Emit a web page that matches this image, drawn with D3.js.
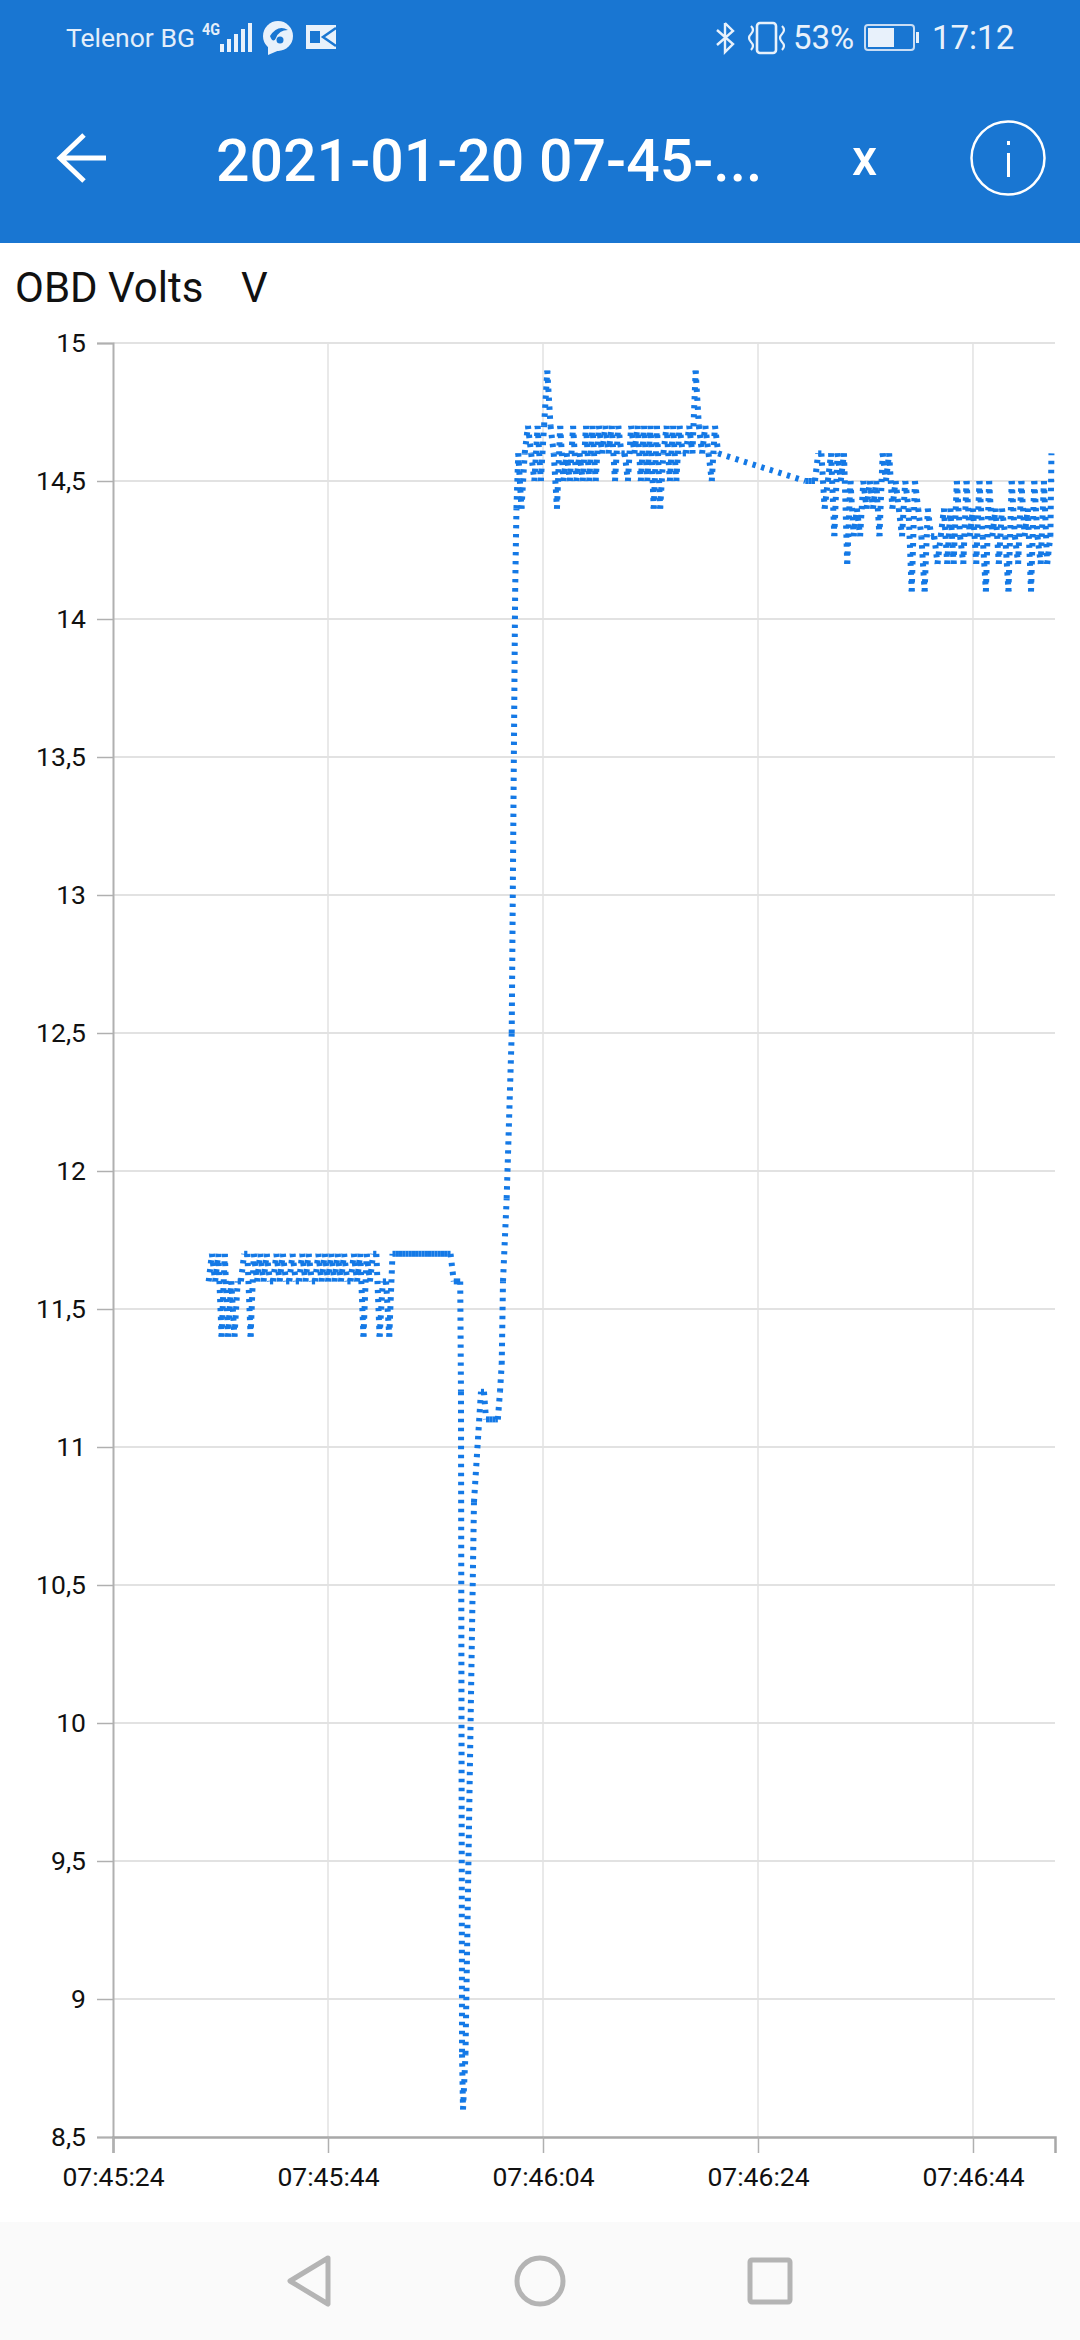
<!DOCTYPE html>
<html><head><meta charset="utf-8">
<script src="https://cdn.jsdelivr.net/npm/d3@7"></script>
<style>
html,body{margin:0;padding:0;background:#fff;}
svg{display:block;font-family:Roboto,sans-serif;}
</style></head><body>
<script>
// Seconds after 07:45:24, and OBD voltage
const idleTimes=[8.9,9.2,9.5,9.8,10.1,10.4,10.7,11.0,11.3,11.6,
11.9,12.2,12.5,12.8,13.1,13.4,13.7,14.0,14.3,14.6,
14.9,15.2,15.5,15.8,16.1,16.4,16.7,17.0,17.3,17.6,
17.9,18.2,18.5,18.8,19.1,19.4,19.7,20.0,20.3,20.6,
20.9,21.2,21.5,21.8,22.1,22.4,22.7,23.0,23.3,23.6,
23.9,24.2,24.5,24.8,25.1,25.4,25.7,26.0,26.3,26.6,
26.9,27.2,27.5,27.8,28.1,28.4,28.7,29.0,29.3,29.6,
29.9,30.2,30.5,30.8,31.1,31.4,31.7,32.0,32.3];
const idleVolts=[11.6,11.7,11.6,11.7,11.4,11.7,11.4,11.6,11.4,11.6,
11.6,11.7,11.7,11.4,11.7,11.6,11.7,11.6,11.7,11.6,
11.6,11.7,11.6,11.7,11.6,11.6,11.7,11.6,11.6,11.7,
11.6,11.7,11.6,11.6,11.7,11.6,11.7,11.6,11.7,11.6,
11.7,11.6,11.7,11.6,11.6,11.7,11.6,11.7,11.4,11.7,
11.6,11.7,11.7,11.4,11.6,11.6,11.4,11.7,11.7,11.7,
11.7,11.7,11.7,11.7,11.7,11.7,11.7,11.7,11.7,11.7,
11.7,11.7,11.7,11.7,11.7,11.7,11.6,11.6,11.6];
const crankTimes=[32.37,32.47,32.56,32.79,33.58,34.23,34.51,34.70,35.0,35.3,35.6,35.8,36.0,36.16,36.28,36.62,37.09,37.41,37.53];
const crankVolts=[11.2,8.8,8.6,8.8,10.8,11.2,11.2,11.1,11.1,11.1,11.1,11.1,11.2,11.3,11.6,11.9,12.5,14.1,14.4];
const chargeTimes=[37.7,38.0,38.3,38.6,38.9,39.2,39.5,39.8,40.1,40.4,
40.7,41.0,41.3,41.6,41.9,42.2,42.5,42.8,43.1,43.4,
43.7,44.0,44.3,44.6,44.9,45.2,45.5,45.8,46.1,46.4,
46.7,47.0,47.3,47.6,47.9,48.2,48.5,48.8,49.1,49.4,
49.7,50.0,50.3,50.6,50.9,51.2,51.5,51.8,52.1,52.4,
52.7,53.0,53.3,53.6,53.9,54.2,54.5,54.8,55.1,55.4,
55.7,56.0,56.3];
const chargeVolts=[14.6,14.4,14.6,14.7,14.6,14.5,14.7,14.5,14.7,14.9,
14.7,14.6,14.4,14.7,14.5,14.6,14.5,14.7,14.5,14.6,
14.5,14.7,14.5,14.7,14.5,14.7,14.6,14.7,14.6,14.7,
14.5,14.7,14.6,14.6,14.5,14.7,14.6,14.7,14.5,14.7,
14.5,14.7,14.4,14.7,14.4,14.6,14.7,14.5,14.7,14.5,
14.7,14.6,14.6,14.7,14.6,14.9,14.7,14.6,14.7,14.6,
14.5,14.7,14.6];
const settleTimes=[64.4,64.7,65.0,65.3,65.6,65.9,66.2,66.5,66.8,67.1,
67.4,67.7,68.0,68.3,68.6,68.9,69.2,69.5,69.8,70.1,
70.4,70.7,71.0,71.3,71.6,71.9,72.2,72.5,72.8,73.1,
73.4,73.7,74.0,74.3,74.6,74.9,75.2,75.5,75.8,76.1,
76.4,76.7,77.0,77.3,77.6,77.9,78.2,78.5,78.8,79.1,
79.4,79.7,80.0,80.3,80.6,80.9,81.2,81.5,81.8,82.1,
82.4,82.7,83.0,83.3,83.6,83.9,84.2,84.5,84.8,85.1,
85.4,85.7,86.0,86.3,86.6,86.9,87.2,87.3];
const settleVolts=[14.5,14.5,14.5,14.5,14.6,14.6,14.4,14.5,14.6,14.3,
14.6,14.5,14.6,14.2,14.5,14.3,14.4,14.3,14.5,14.4,
14.5,14.4,14.5,14.3,14.6,14.5,14.6,14.4,14.5,14.4,
14.3,14.5,14.4,14.1,14.5,14.4,14.3,14.1,14.4,14.3,
14.3,14.2,14.3,14.4,14.2,14.4,14.2,14.5,14.3,14.2,
14.5,14.3,14.4,14.2,14.5,14.3,14.1,14.5,14.3,14.4,
14.2,14.4,14.3,14.1,14.5,14.3,14.2,14.5,14.3,14.4,
14.1,14.5,14.3,14.2,14.5,14.2,14.3,14.6];
const yTickValues=[8.5,9,9.5,10,10.5,11,11.5,12,12.5,13,13.5,14,14.5,15];
const yTickLabels=["8,5","9","9,5","10","10,5","11","11,5","12","12,5","13","13,5","14","14,5","15"];
const xTickSeconds=[0,20,40,60,80];
const xEndSeconds=87.63;
const yDomain=[8.5,15];
const chartTitle="OBD Volts";
const chartUnit="V";
const screenTitle="2021-01-20 07-45-...";

const W=1080,H=2340;
const M={l:113,r:1055,t:343,b:2137};
const base=new Date(2021,0,20,7,45,24);
const toDate=s=>new Date(base.getTime()+s*1000);
const x=d3.scaleTime().domain([toDate(0),toDate(xEndSeconds)]).range([M.l,M.r]);
const y=d3.scaleLinear().domain(yDomain).range([M.b,M.t]);
const times=[...idleTimes,...crankTimes,...chargeTimes,...settleTimes];
const volts=[...idleVolts,...crankVolts,...chargeVolts,...settleVolts];
const points=times.map((t,i)=>({t:toDate(t),v:volts[i]}));

const svg=d3.select("body").append("svg").attr("width",W).attr("height",H).attr("viewBox",`0 0 ${W} ${H}`);
svg.append("rect").attr("width",W).attr("height",H).attr("fill","#fff");

// header
const BLUE="#1976d2";
svg.append("rect").attr("width",W).attr("height",243).attr("fill",BLUE);
const hdr=svg.append("g").attr("fill","#fff");
hdr.append("text").attr("x",66).attr("y",47).attr("font-size",26.5).attr("fill","#e3eefa").text("Telenor BG");
hdr.append("text").attr("x",202).attr("y",35).attr("font-size",17).attr("font-weight",700).attr("fill","#e3eefa").attr("textLength",18).attr("lengthAdjust","spacingAndGlyphs").text("4G");
[[220,8],[227,13],[234,18],[241,23],[248,29]].forEach(([bx,h])=>hdr.append("rect").attr("x",bx).attr("y",52-h).attr("width",4).attr("height",h).attr("fill","#e8f1fb"));
hdr.append("circle").attr("cx",278).attr("cy",36).attr("r",15).attr("fill","#e8f1fb");
hdr.append("path").attr("d","M268 45 L268 55 L282 49 Z").attr("fill","#e8f1fb");
hdr.append("path").attr("d","M270 36 Q278 24 288 30 Q279 30 276 38 Q273 44 270 36Z").attr("fill",BLUE);
hdr.append("circle").attr("cx",280).attr("cy",40).attr("r",3.5).attr("fill",BLUE);
hdr.append("rect").attr("x",306).attr("y",25).attr("width",30).attr("height",24).attr("fill","#e8f1fb");
hdr.append("rect").attr("x",310).attr("y",31).attr("width",10).attr("height",12).attr("fill",BLUE);
hdr.append("path").attr("d","M336 28 L323 37 L336 46").attr("fill","none").attr("stroke",BLUE).attr("stroke-width",2.5);
// bluetooth
hdr.append("path").attr("d","M725 23 L725 52 L733 44 L717 30 M717 45 L733 31 L725 23").attr("fill","none").attr("stroke","#e8f1fb").attr("stroke-width",2.4);
// vibrate
hdr.append("rect").attr("x",757).attr("y",23).attr("width",19).attr("height",30).attr("rx",3).attr("fill","none").attr("stroke","#e8f1fb").attr("stroke-width",2.6);
hdr.append("path").attr("d","M751 26 Q755 30 751 34 Q747 38 751 42 Q755 46 751 50 M782 26 Q786 30 782 34 Q778 38 782 42 Q786 46 782 50").attr("fill","none").attr("stroke","#e8f1fb").attr("stroke-width",2.2);
hdr.append("text").attr("x",793).attr("y",49).attr("font-size",33).attr("fill","#e8f1fb").text("53%");
hdr.append("rect").attr("x",865).attr("y",25).attr("width",49).attr("height",25).attr("rx",3).attr("fill","none").attr("stroke","#c9ddf4").attr("stroke-width",2);
hdr.append("rect").attr("x",868).attr("y",28).attr("width",26).attr("height",19).attr("fill","#e8f1fb");
hdr.append("rect").attr("x",916).attr("y",32).attr("width",3).attr("height",11).attr("fill","#e8f1fb");
hdr.append("text").attr("x",932).attr("y",49).attr("font-size",33).attr("fill","#e8f1fb").text("17:12");
// toolbar
hdr.append("path").attr("d","M106 158 L60 158 M84 135 L60 158 L84 181").attr("fill","none").attr("stroke","#fff").attr("stroke-width",5);
hdr.append("text").attr("x",216).attr("y",181).attr("font-size",59).attr("font-weight",500).text(screenTitle);
hdr.append("text").attr("x",852).attr("y",175).attr("font-size",50).attr("font-weight",500).text("x");
hdr.append("circle").attr("cx",1008).attr("cy",158).attr("r",36.5).attr("fill","none").attr("stroke","#fff").attr("stroke-width",2.5);
hdr.append("rect").attr("x",1007).attr("y",153).attr("width",3).attr("height",24);
hdr.append("rect").attr("x",1007).attr("y",141).attr("width",3).attr("height",4);

// chart heading
svg.append("text").attr("x",15).attr("y",302).attr("font-size",42).attr("fill","#111").text(chartTitle);
svg.append("text").attr("x",241).attr("y",302).attr("font-size",42).attr("fill","#111").text(chartUnit);

// grid
svg.append("g").selectAll("line").data(yTickValues.filter(v=>v>8.5)).join("line")
 .attr("x1",M.l).attr("x2",M.r).attr("y1",d=>y(d)).attr("y2",d=>y(d)).attr("stroke","#e2e2e2").attr("stroke-width",1.8);
svg.append("g").selectAll("line").data(xTickSeconds.slice(1)).join("line")
 .attr("x1",d=>x(toDate(d))).attr("x2",d=>x(toDate(d))).attr("y1",M.t).attr("y2",M.b).attr("stroke","#e2e2e2").attr("stroke-width",1.5);

// axes
const yAxis=svg.append("g").attr("transform",`translate(${M.l},0)`)
 .call(d3.axisLeft(y).tickValues(yTickValues).tickFormat((d,i)=>yTickLabels[i]).tickSize(16).tickPadding(11));
const xAxis=svg.append("g").attr("transform",`translate(0,${M.b})`)
 .call(d3.axisBottom(x).tickValues(xTickSeconds.map(toDate)).tickFormat(d3.timeFormat("%H:%M:%S")).tickSize(16).tickPadding(14));
yAxis.selectAll("text").attr("font-size",26.5).attr("font-family","Roboto").attr("fill","#111");
xAxis.selectAll("text").attr("font-size",26.5).attr("font-family","Roboto").attr("fill","#111");
yAxis.selectAll("line").attr("stroke","#b0b0b0").attr("stroke-width",1.5);
xAxis.selectAll("line").attr("stroke","#b0b0b0").attr("stroke-width",1.5);
yAxis.select(".domain").attr("stroke","#b0b0b0").attr("stroke-width",2);
xAxis.select(".domain").attr("stroke","#a8a8a8").attr("stroke-width",2.5);

// series: every segment restarts its own dash pattern, as in the original
const line=d3.line().x(d=>x(d.t)).y(d=>y(d.v));
svg.append("g").attr("fill","none").attr("stroke","#1479e6").attr("stroke-width",6).attr("stroke-dasharray","3.4 5.6")
 .selectAll("path").data(d3.pairs(points)).join("path").attr("d",d=>line(d));

// nav bar
svg.append("rect").attr("y",2222).attr("width",W).attr("height",H-2222).attr("fill","#fafafa");
const nav=svg.append("g").attr("fill","none").attr("stroke","#b4b4b4").attr("stroke-width",5).attr("stroke-linejoin","round");
nav.append("path").attr("d","M328 2258 L290 2281 L328 2304 Z");
nav.append("circle").attr("cx",540).attr("cy",2281).attr("r",23);
nav.append("rect").attr("x",750).attr("y",2260).attr("width",40).attr("height",42).attr("rx",2);
</script>
</body></html>
